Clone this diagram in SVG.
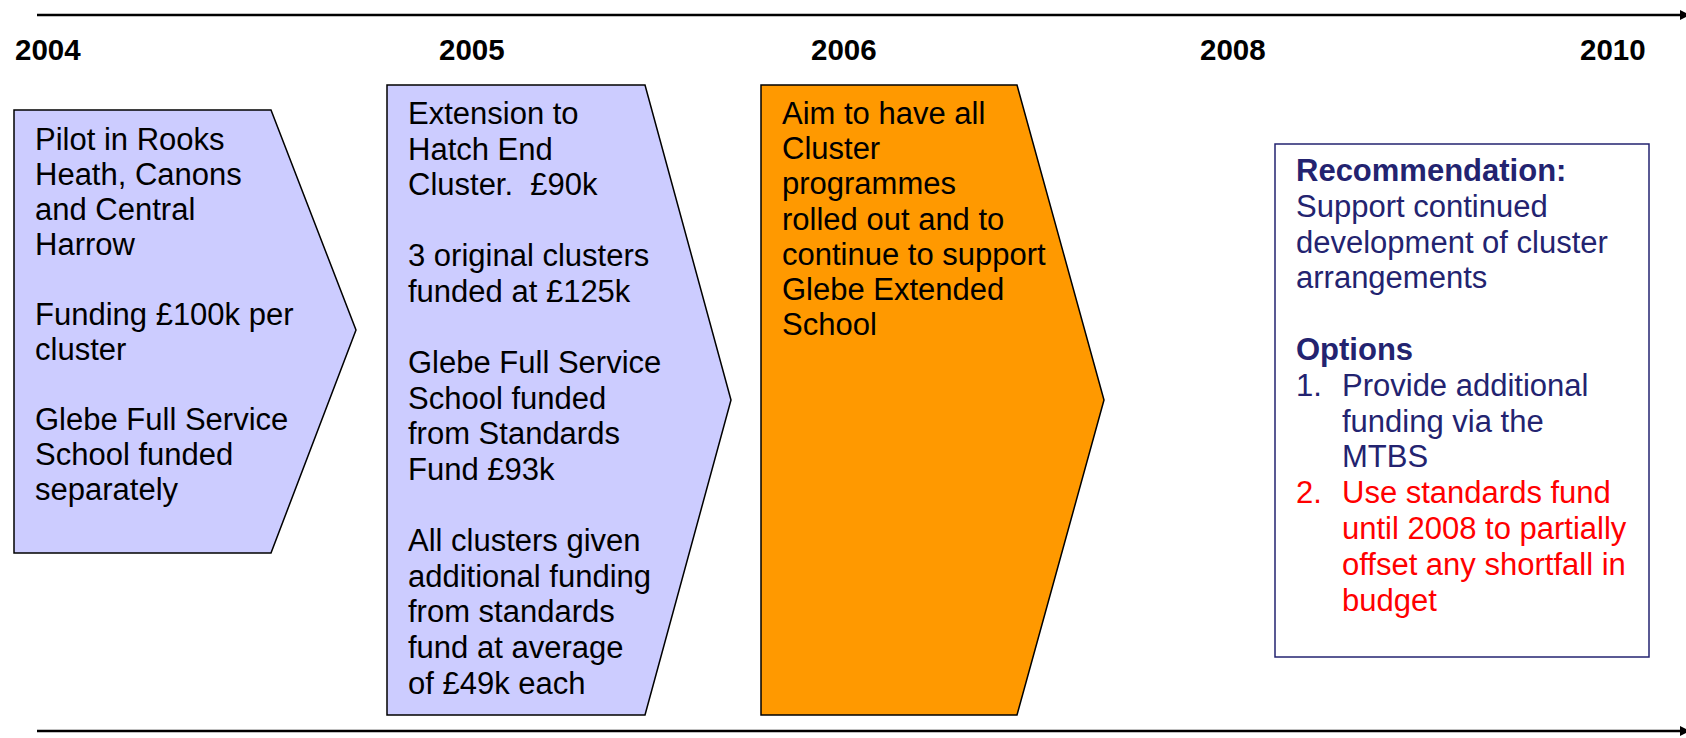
<svg xmlns="http://www.w3.org/2000/svg" width="1686" height="738" viewBox="0 0 1686 738">
<defs>
<marker id="ah" markerWidth="10" markerHeight="10" refX="0" refY="5" orient="auto" markerUnits="userSpaceOnUse">
<path d="M0,0 L10,5 L0,10 Z" fill="#000"/>
</marker>
<style>
.t{font-family:"Liberation Sans",Arial,sans-serif;font-size:31px;fill:#000}
.yr{font-family:"Liberation Sans",Arial,sans-serif;font-size:29.5px;font-weight:bold;fill:#000}
.nv{font-family:"Liberation Sans",Arial,sans-serif;font-size:31px;fill:#232370}
.rd{font-family:"Liberation Sans",Arial,sans-serif;font-size:31px;fill:#FF0000}
.b{font-weight:bold}
.pre{white-space:pre}
.blue{fill:#CCCCFF;stroke:#000;stroke-width:1.5}
.orange{fill:#FF9900;stroke:#000;stroke-width:1.5}
.ln{stroke:#000;stroke-width:2.5;fill:none}
</style>
</defs>
<rect width="1686" height="738" fill="#fff"/>
<g id="connectors">
<line class="ln" x1="37" y1="15" x2="1680" y2="15" marker-end="url(#ah)"/>
<line class="ln" x1="37" y1="731" x2="1680" y2="731" marker-end="url(#ah)"/>
</g>
<g id="years">
<text class="yr" x="15" y="60">2004</text>
<text class="yr" x="439" y="60">2005</text>
<text class="yr" x="811" y="60">2006</text>
<text class="yr" x="1200" y="60">2008</text>
<text class="yr" x="1580" y="60">2010</text>
</g>
<g id="node-2004">
<polygon class="blue" points="14,110 271,110 356,330 271,553 14,553"/>
<text class="t" x="35" y="150">Pilot in Rooks</text>
<text class="t" x="35" y="185">Heath, Canons</text>
<text class="t" x="35" y="220">and Central</text>
<text class="t" x="35" y="255">Harrow</text>
<text class="t" x="35" y="325">Funding £100k per</text>
<text class="t" x="35" y="360">cluster</text>
<text class="t" x="35" y="430">Glebe Full Service</text>
<text class="t" x="35" y="465">School funded</text>
<text class="t" x="35" y="500">separately</text>
</g>
<g id="node-2005">
<polygon class="blue" points="387,85 645,85 731,400 645,715 387,715"/>
<text class="t" x="408" y="124">Extension to</text>
<text class="t" x="408" y="159.6">Hatch End</text>
<text class="t pre" x="408" y="195.2" xml:space="preserve">Cluster.  £90k</text>
<text class="t" x="408" y="266.4">3 original clusters</text>
<text class="t" x="408" y="302">funded at £125k</text>
<text class="t" x="408" y="373.2">Glebe Full Service</text>
<text class="t" x="408" y="408.8">School funded</text>
<text class="t" x="408" y="444.4">from Standards</text>
<text class="t" x="408" y="480">Fund £93k</text>
<text class="t" x="408" y="551.2">All clusters given</text>
<text class="t" x="408" y="586.8">additional funding</text>
<text class="t" x="408" y="622.4">from standards</text>
<text class="t" x="408" y="658">fund at average</text>
<text class="t" x="408" y="693.6">of £49k each</text>
</g>
<g id="node-2006">
<polygon class="orange" points="761,85 1017,85 1104,400 1017,715 761,715"/>
<text class="t" x="782" y="124">Aim to have all</text>
<text class="t" x="782" y="159.2">Cluster</text>
<text class="t" x="782" y="194.4">programmes</text>
<text class="t" x="782" y="229.6">rolled out and to</text>
<text class="t" x="782" y="264.8">continue to support</text>
<text class="t" x="782" y="300">Glebe Extended</text>
<text class="t" x="782" y="335.2">School</text>
</g>
<g id="node-recommendation">
<rect x="1275" y="144" width="374" height="513" fill="#fff" stroke="#232370" stroke-width="1.5"/>
<text class="nv b" x="1296" y="181">Recommendation:</text>
<text class="nv" x="1296" y="216.8">Support continued</text>
<text class="nv" x="1296" y="252.6">development of cluster</text>
<text class="nv" x="1296" y="288.4">arrangements</text>
<text class="nv b" x="1296" y="360">Options</text>
<text class="nv" x="1296" y="395.8">1.</text>
<text class="nv" x="1342" y="395.8">Provide additional</text>
<text class="nv" x="1342" y="431.6">funding via the</text>
<text class="nv" x="1342" y="467.4">MTBS</text>
<text class="rd" x="1296" y="503.2">2.</text>
<text class="rd" x="1342" y="503.2">Use standards fund</text>
<text class="rd" x="1342" y="539">until 2008 to partially</text>
<text class="rd" x="1342" y="574.8">offset any shortfall in</text>
<text class="rd" x="1342" y="610.6">budget</text>
</g>
</svg>
